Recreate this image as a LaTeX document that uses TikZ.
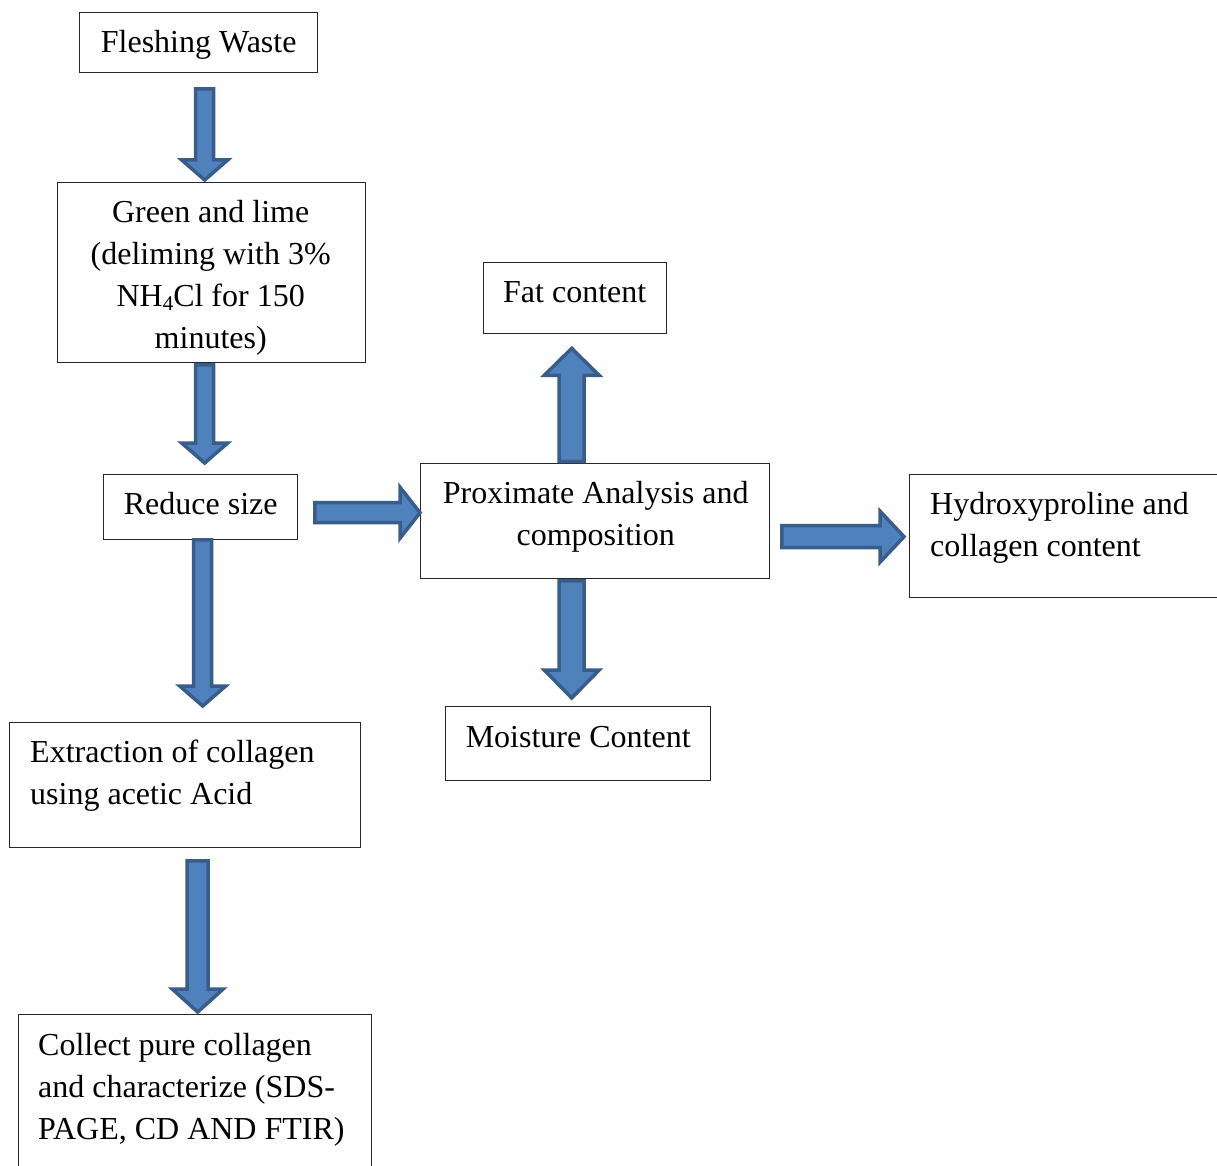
\documentclass[tikz,border=0pt]{standalone}
\usepackage{fontspec}
\setmainfont{Liberation Serif}
\usetikzlibrary{calc}
\definecolor{arrfill}{HTML}{4F81BD}
\definecolor{arrline}{HTML}{385D8A}
\newcommand\tstrut{\rule{0pt}{30pt}}
\newcommand\subsc[1]{\raisebox{-0.12em}{\fontsize{21}{21}\selectfont #1}}
% #1 tail coordinate, #2 tip coordinate, #3 shaft half width, #4 head half width, #5 head length
\newcommand\blockarrow[5]{%
  \coordinate (bah) at ($(#2)!#5!(#1)$);
  \draw[blockarr] ($(#1)!#3!90:(#2)$) -- ($(bah)!#3!-90:(#1)$) -- ($(bah)!#4!-90:(#1)$) -- (#2)
     -- ($(bah)!#4!90:(#1)$) -- ($(bah)!#3!90:(#1)$) -- ($(#1)!#3!-90:(#2)$) -- cycle;}
\begin{document}
\begin{tikzpicture}[x=1pt,y=-1pt,
  box/.style={draw=black!85, line width=1.4pt, anchor=north west, inner sep=0pt},
  txt/.style={inner sep=0pt, anchor=north, align=center, font=\fontsize{32}{42}\selectfont},
  txtl/.style={txt, anchor=north west, align=left},
  blockarr/.style={fill=arrfill, draw=arrline, line width=3.5pt, line join=miter}]
\useasboundingbox (0,0) rectangle (1217,1166);
\clip (0,0) rectangle (1217,1166);
\fill[white] (0,0) rectangle (1217,1166);

% boxes
\node[box, minimum width=238pt, minimum height=60pt] (fw) at (79,12) {};
\node[box, minimum width=308pt, minimum height=180pt] (gl) at (57,182) {};
\node[box, minimum width=194pt, minimum height=65pt] (rs) at (103,474) {};
\node[box, minimum width=349pt, minimum height=115pt] (pa) at (420,463) {};
\node[box, minimum width=183pt, minimum height=71pt] (fat) at (483,262) {};
\node[box, minimum width=340pt, minimum height=123pt] (hy) at (909,474) {};
\node[box, minimum width=265pt, minimum height=74pt] (mo) at (445,706) {};
\node[box, minimum width=351pt, minimum height=125pt] (ex) at (9,722) {};
\node[box, minimum width=353pt, minimum height=170pt] (co) at (18,1014) {};

% texts
\node[txt] (tfw) at ($(fw.north)+(0,10)$) {\tstrut Fleshing Waste};
\node[txt] (tgl) at ($(gl.north)+(-1,10)$) {\tstrut Green and lime\\(deliming with 3\%\\NH\subsc{4}Cl for 150\\minutes)};
\node[txt] (trs) at ($(rs.north)+(0,10)$) {\tstrut Reduce size};
\node[txt] (tpa) at ($(pa.north)+(0.5,10)$) {\tstrut Proximate Analysis and\\composition};
\node[txt] (tfat) at ($(fat.north)+(-0.5,10)$) {\tstrut Fat content};
\node[txtl] (thy) at ($(hy.north west)+(21,10)$) {\tstrut Hydroxyproline and\\collagen content};
\node[txt] (tmo) at ($(mo.north)+(0,11)$) {\tstrut Moisture Content};
\node[txtl] (tex) at ($(ex.north west)+(21,10)$) {\tstrut Extraction of collagen\\using acetic Acid};
\node[txtl] (tco) at ($(co.north west)+(20,11)$) {\tstrut Collect pure collagen\\and characterize (SDS-\\PAGE, CD AND FTIR)};

% arrow end points
\coordinate (a1s) at ($(fw.south)+(6,15.5)$);
\coordinate (a1e) at ($(gl.north)+(-7,-2)$);
\coordinate (a2s) at ($(gl.south)+(-7,1.5)$);
\coordinate (a2e) at ($(rs.north)+(4,-11)$);
\coordinate (a3s) at ($(rs.south)+(2,-0.5)$);
\coordinate (a3e) at ($(ex.north)+(17.5,-16)$);
\coordinate (a4s) at ($(ex.south)+(12.5,12.5)$);
\coordinate (a4e) at ($(co.north)+(2.5,-2)$);
\coordinate (a5s) at ($(rs.east)+(16.5,5.5)$);
\coordinate (a5e) at ($(pa.west)+(0,-8.5)$);
\coordinate (a6s) at ($(pa.north)+(-23.5,-1.5)$);
\coordinate (a6e) at ($(fat.south)+(-3.5,14)$);
\coordinate (a7s) at ($(pa.south)+(-23.5,1.5)$);
\coordinate (a7e) at ($(mo.north)+(-6.5,-8)$);
\coordinate (a8s) at ($(pa.east)+(11.5,15.5)$);
\coordinate (a8e) at ($(hy.west)+(-5,0.5)$);

% arrows
\blockarrow{a1s}{a1e}{9pt}{23pt}{20pt}
\blockarrow{a2s}{a2e}{9pt}{23pt}{20pt}
\blockarrow{a3s}{a3e}{9pt}{23pt}{20pt}
\blockarrow{a4s}{a4e}{10.5pt}{25.5pt}{23pt}
\blockarrow{a5s}{a5e}{10pt}{25.5pt}{20pt}
\blockarrow{a6s}{a6e}{12.5pt}{27.5pt}{27pt}
\blockarrow{a7s}{a7e}{12.5pt}{27.5pt}{28pt}
\blockarrow{a8s}{a8e}{11pt}{25.5pt}{24pt}
\end{tikzpicture}
\end{document}
